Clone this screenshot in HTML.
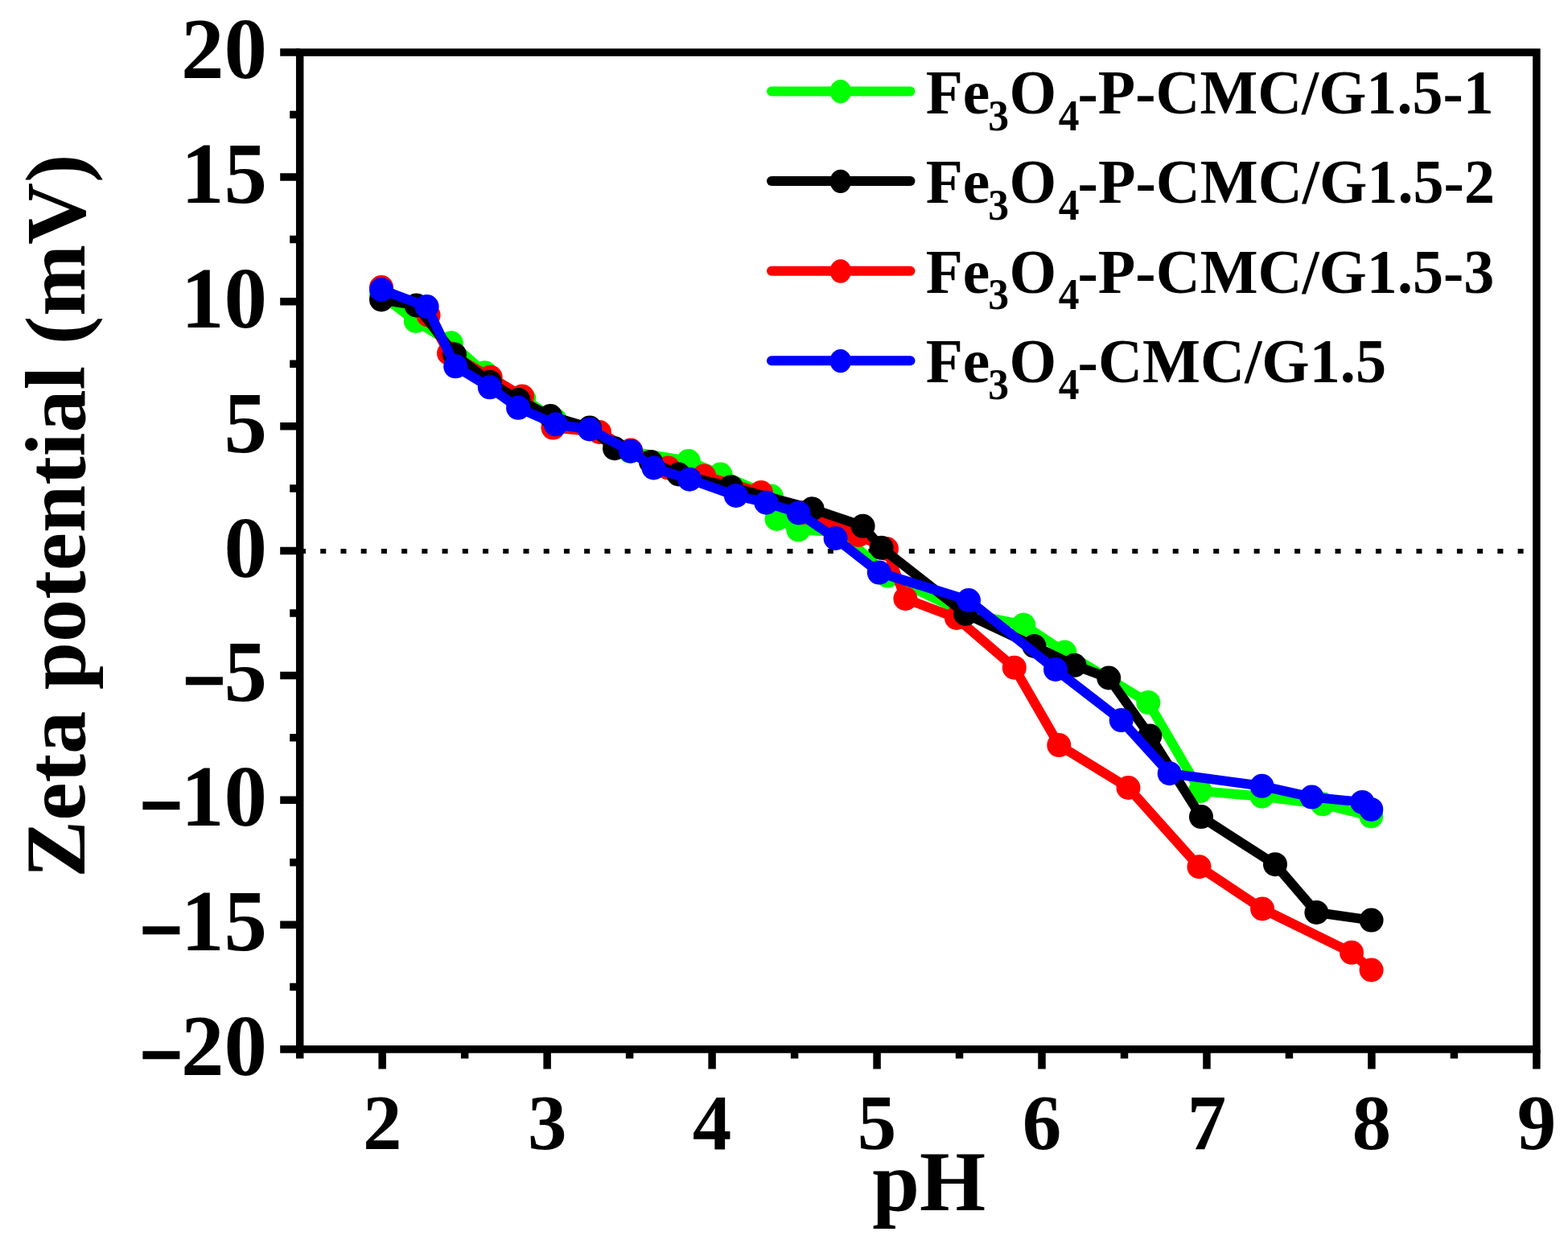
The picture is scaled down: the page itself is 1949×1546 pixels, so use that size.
<!DOCTYPE html>
<html><head><meta charset="utf-8"><title>Zeta potential vs pH</title>
<style>html,body{margin:0;padding:0;background:#fff;}svg{display:block;}text{font-family:'Liberation Serif','Times New Roman',serif;font-weight:bold;fill:#000;}</style></head><body>
<svg width="1949" height="1546" viewBox="0 0 1949 1546">
<rect x="0" y="0" width="1949" height="1546" fill="#fff"/>
<line x1="373.00" y1="685.05" x2="1909.90" y2="685.05" stroke="#000" stroke-width="6" stroke-dasharray="7 18.227"/>
<path d="M474.0 367.0 L516.8 399.0 L560.8 426.3 L602.5 463.2 L651.4 495.5 L690.0 522.0 L733.0 532.0 L783.0 561.0 L855.8 573.0 L895.5 589.6 L958.7 616.5 L965.5 645.0 L992.3 658.5 L1044.0 661.0 L1103.4 715.7 L1200.0 762.0 L1272.2 776.5 L1323.4 810.5 L1427.3 873.1 L1491.7 983.1 L1568.6 989.7 L1644.1 999.5 L1704.3 1014.3" fill="none" stroke="#00ff00" stroke-width="12" stroke-linejoin="round" stroke-linecap="round"/>
<g fill="#00ff00"><circle cx="474.0" cy="367.0" r="15.0"/><circle cx="516.8" cy="399.0" r="15.0"/><circle cx="560.8" cy="426.3" r="15.0"/><circle cx="602.5" cy="463.2" r="15.0"/><circle cx="651.4" cy="495.5" r="15.0"/><circle cx="690.0" cy="522.0" r="15.0"/><circle cx="733.0" cy="532.0" r="15.0"/><circle cx="783.0" cy="561.0" r="15.0"/><circle cx="855.8" cy="573.0" r="15.0"/><circle cx="895.5" cy="589.6" r="15.0"/><circle cx="958.7" cy="616.5" r="15.0"/><circle cx="965.5" cy="645.0" r="15.0"/><circle cx="992.3" cy="658.5" r="15.0"/><circle cx="1044.0" cy="661.0" r="15.0"/><circle cx="1103.4" cy="715.7" r="15.0"/><circle cx="1200.0" cy="762.0" r="15.0"/><circle cx="1272.2" cy="776.5" r="15.0"/><circle cx="1323.4" cy="810.5" r="15.0"/><circle cx="1427.3" cy="873.1" r="15.0"/><circle cx="1491.7" cy="983.1" r="15.0"/><circle cx="1568.6" cy="989.7" r="15.0"/><circle cx="1644.1" cy="999.5" r="15.0"/><circle cx="1704.3" cy="1014.3" r="15.0"/></g>
<path d="M474.0 357.0 L532.5 391.7 L558.0 439.0 L609.7 468.8 L649.0 492.4 L687.5 531.6 L745.0 537.0 L784.0 559.5 L830.5 581.4 L875.2 591.5 L946.0 612.0 L998.0 637.0 L1067.0 665.0 L1102.0 682.0 L1125.4 744.0 L1189.0 768.0 L1260.8 829.7 L1316.3 926.1 L1402.5 979.0 L1490.5 1077.2 L1569.1 1129.5 L1680.0 1183.8 L1704.6 1205.5" fill="none" stroke="#ff0000" stroke-width="12" stroke-linejoin="round" stroke-linecap="round"/>
<g fill="#ff0000"><circle cx="474.0" cy="357.0" r="15.0"/><circle cx="532.5" cy="391.7" r="15.0"/><circle cx="558.0" cy="439.0" r="15.0"/><circle cx="609.7" cy="468.8" r="15.0"/><circle cx="649.0" cy="492.4" r="15.0"/><circle cx="687.5" cy="531.6" r="15.0"/><circle cx="745.0" cy="537.0" r="15.0"/><circle cx="784.0" cy="559.5" r="15.0"/><circle cx="830.5" cy="581.4" r="15.0"/><circle cx="875.2" cy="591.5" r="15.0"/><circle cx="946.0" cy="612.0" r="15.0"/><circle cx="998.0" cy="637.0" r="15.0"/><circle cx="1067.0" cy="665.0" r="15.0"/><circle cx="1102.0" cy="682.0" r="15.0"/><circle cx="1125.4" cy="744.0" r="15.0"/><circle cx="1189.0" cy="768.0" r="15.0"/><circle cx="1260.8" cy="829.7" r="15.0"/><circle cx="1316.3" cy="926.1" r="15.0"/><circle cx="1402.5" cy="979.0" r="15.0"/><circle cx="1490.5" cy="1077.2" r="15.0"/><circle cx="1569.1" cy="1129.5" r="15.0"/><circle cx="1680.0" cy="1183.8" r="15.0"/><circle cx="1704.6" cy="1205.5" r="15.0"/></g>
<path d="M474.0 372.5 L517.5 379.4 L565.0 440.5 L608.8 474.7 L644.5 497.0 L684.2 517.0 L733.0 531.5 L764.0 557.2 L809.0 574.0 L843.5 589.5 L908.7 605.2 L1009.6 632.3 L1072.6 653.8 L1095.6 680.8 L1200.2 762.8 L1285.5 803.0 L1335.5 826.8 L1378.2 842.5 L1429.3 914.5 L1493.0 1015.1 L1585.0 1074.2 L1636.4 1134.0 L1704.6 1143.6" fill="none" stroke="#000000" stroke-width="12" stroke-linejoin="round" stroke-linecap="round"/>
<g fill="#000000"><circle cx="474.0" cy="372.5" r="15.0"/><circle cx="517.5" cy="379.4" r="15.0"/><circle cx="565.0" cy="440.5" r="15.0"/><circle cx="608.8" cy="474.7" r="15.0"/><circle cx="644.5" cy="497.0" r="15.0"/><circle cx="684.2" cy="517.0" r="15.0"/><circle cx="733.0" cy="531.5" r="15.0"/><circle cx="764.0" cy="557.2" r="15.0"/><circle cx="809.0" cy="574.0" r="15.0"/><circle cx="843.5" cy="589.5" r="15.0"/><circle cx="908.7" cy="605.2" r="15.0"/><circle cx="1009.6" cy="632.3" r="15.0"/><circle cx="1072.6" cy="653.8" r="15.0"/><circle cx="1095.6" cy="680.8" r="15.0"/><circle cx="1200.2" cy="762.8" r="15.0"/><circle cx="1285.5" cy="803.0" r="15.0"/><circle cx="1335.5" cy="826.8" r="15.0"/><circle cx="1378.2" cy="842.5" r="15.0"/><circle cx="1429.3" cy="914.5" r="15.0"/><circle cx="1493.0" cy="1015.1" r="15.0"/><circle cx="1585.0" cy="1074.2" r="15.0"/><circle cx="1636.4" cy="1134.0" r="15.0"/><circle cx="1704.6" cy="1143.6" r="15.0"/></g>
<path d="M474.0 360.0 L530.6 381.0 L566.2 455.3 L608.8 481.3 L644.1 506.8 L690.8 527.3 L732.8 533.5 L784.0 560.7 L812.5 581.5 L857.1 595.7 L914.9 616.0 L952.4 624.7 L992.5 637.4 L1038.6 669.0 L1092.8 711.6 L1204.0 746.0 L1312.0 832.0 L1393.7 895.1 L1453.7 961.2 L1568.6 976.8 L1630.5 990.6 L1693.3 996.9 L1704.3 1005.9" fill="none" stroke="#0000ff" stroke-width="12" stroke-linejoin="round" stroke-linecap="round"/>
<g fill="#0000ff"><circle cx="474.0" cy="360.0" r="15.0"/><circle cx="530.6" cy="381.0" r="15.0"/><circle cx="566.2" cy="455.3" r="15.0"/><circle cx="608.8" cy="481.3" r="15.0"/><circle cx="644.1" cy="506.8" r="15.0"/><circle cx="690.8" cy="527.3" r="15.0"/><circle cx="732.8" cy="533.5" r="15.0"/><circle cx="784.0" cy="560.7" r="15.0"/><circle cx="812.5" cy="581.5" r="15.0"/><circle cx="857.1" cy="595.7" r="15.0"/><circle cx="914.9" cy="616.0" r="15.0"/><circle cx="952.4" cy="624.7" r="15.0"/><circle cx="992.5" cy="637.4" r="15.0"/><circle cx="1038.6" cy="669.0" r="15.0"/><circle cx="1092.8" cy="711.6" r="15.0"/><circle cx="1204.0" cy="746.0" r="15.0"/><circle cx="1312.0" cy="832.0" r="15.0"/><circle cx="1393.7" cy="895.1" r="15.0"/><circle cx="1453.7" cy="961.2" r="15.0"/><circle cx="1568.6" cy="976.8" r="15.0"/><circle cx="1630.5" cy="990.6" r="15.0"/><circle cx="1693.3" cy="996.9" r="15.0"/><circle cx="1704.3" cy="1005.9" r="15.0"/></g>
<rect x="372.70" y="65.10" width="1537.20" height="1238.90" fill="none" stroke="#000" stroke-width="9.5"/>
<path d="M348.20 65.10H372.70M360.20 142.53H372.70M348.20 219.96H372.70M360.20 297.39H372.70M348.20 374.83H372.70M360.20 452.26H372.70M348.20 529.69H372.70M360.20 607.12H372.70M348.20 684.55H372.70M360.20 761.98H372.70M348.20 839.41H372.70M360.20 916.84H372.70M348.20 994.28H372.70M360.20 1071.71H372.70M348.20 1149.14H372.70M360.20 1226.57H372.70M348.20 1304.00H372.70M372.70 1304.00V1315.50M475.18 1304.00V1328.50M577.66 1304.00V1315.50M680.14 1304.00V1328.50M782.62 1304.00V1315.50M885.10 1304.00V1328.50M987.58 1304.00V1315.50M1090.06 1304.00V1328.50M1192.54 1304.00V1315.50M1295.02 1304.00V1328.50M1397.50 1304.00V1315.50M1499.98 1304.00V1328.50M1602.46 1304.00V1315.50M1704.94 1304.00V1328.50M1807.42 1304.00V1315.50M1909.90 1304.00V1328.50" stroke="#000" stroke-width="9.5" fill="none"/>
<text x="332" y="97.10" font-size="107" text-anchor="end">20</text>
<text x="332" y="251.96" font-size="107" text-anchor="end">15</text>
<text x="332" y="406.83" font-size="107" text-anchor="end">10</text>
<text x="332" y="561.69" font-size="107" text-anchor="end">5</text>
<text x="332" y="716.55" font-size="107" text-anchor="end">0</text>
<text x="332" y="871.41" font-size="107" text-anchor="end">5</text>
<text transform="translate(225.78 894.35) scale(0.9897 1.4327)" font-size="100">&#8722;</text>
<text x="332" y="1026.28" font-size="107" text-anchor="end">10</text>
<text transform="translate(172.28 1049.21) scale(0.9897 1.4327)" font-size="100">&#8722;</text>
<text x="332" y="1181.14" font-size="107" text-anchor="end">15</text>
<text transform="translate(172.28 1204.07) scale(0.9897 1.4327)" font-size="100">&#8722;</text>
<text x="332" y="1336.00" font-size="107" text-anchor="end">20</text>
<text transform="translate(172.28 1358.94) scale(0.9897 1.4327)" font-size="100">&#8722;</text>
<text x="475.18" y="1427.5" font-size="97" text-anchor="middle">2</text>
<text x="680.14" y="1427.5" font-size="97" text-anchor="middle">3</text>
<text x="885.10" y="1427.5" font-size="97" text-anchor="middle">4</text>
<text x="1090.06" y="1427.5" font-size="97" text-anchor="middle">5</text>
<text x="1295.02" y="1427.5" font-size="97" text-anchor="middle">6</text>
<text x="1499.98" y="1427.5" font-size="97" text-anchor="middle">7</text>
<text x="1704.94" y="1427.5" font-size="97" text-anchor="middle">8</text>
<text x="1909.90" y="1427.5" font-size="97" text-anchor="middle">9</text>
<text transform="translate(105.4 1090.80) rotate(-90)" font-size="106.5">Zeta potential (mV)</text>
<text x="1084.36" y="1504.4" font-size="105.6">pH</text>
<line x1="959" y1="113.40" x2="1131.5" y2="113.40" stroke="#00ff00" stroke-width="12" stroke-linecap="round"/>
<ellipse cx="1044.8" cy="113.70" rx="13.2" ry="14.7" fill="#00ff00"/>
<text y="141.00" font-size="79"><tspan x="1150.71" textLength="79.57" lengthAdjust="spacingAndGlyphs">Fe</tspan><tspan x="1228.16" y="161.50" font-size="54" textLength="25.79" lengthAdjust="spacingAndGlyphs">3</tspan><tspan x="1254.52" y="141.00" textLength="58.68" lengthAdjust="spacingAndGlyphs">O</tspan><tspan x="1315.69" y="161.50" font-size="54" textLength="25.79" lengthAdjust="spacingAndGlyphs">4</tspan><tspan x="1339.52" y="141.00" textLength="517.21" lengthAdjust="spacingAndGlyphs">-P-CMC/G1.5-1</tspan></text>
<line x1="959" y1="225.05" x2="1131.5" y2="225.05" stroke="#000000" stroke-width="12" stroke-linecap="round"/>
<ellipse cx="1044.8" cy="225.35" rx="13.2" ry="14.7" fill="#000000"/>
<text y="252.40" font-size="79"><tspan x="1150.71" textLength="79.57" lengthAdjust="spacingAndGlyphs">Fe</tspan><tspan x="1228.16" y="272.90" font-size="54" textLength="25.79" lengthAdjust="spacingAndGlyphs">3</tspan><tspan x="1254.52" y="252.40" textLength="58.68" lengthAdjust="spacingAndGlyphs">O</tspan><tspan x="1315.69" y="272.90" font-size="54" textLength="25.79" lengthAdjust="spacingAndGlyphs">4</tspan><tspan x="1339.51" y="252.40" textLength="518.57" lengthAdjust="spacingAndGlyphs">-P-CMC/G1.5-2</tspan></text>
<line x1="959" y1="336.70" x2="1131.5" y2="336.70" stroke="#ff0000" stroke-width="12" stroke-linecap="round"/>
<ellipse cx="1044.8" cy="337.00" rx="13.2" ry="14.7" fill="#ff0000"/>
<text y="363.80" font-size="79"><tspan x="1150.71" textLength="79.57" lengthAdjust="spacingAndGlyphs">Fe</tspan><tspan x="1228.16" y="384.30" font-size="54" textLength="25.79" lengthAdjust="spacingAndGlyphs">3</tspan><tspan x="1254.52" y="363.80" textLength="58.68" lengthAdjust="spacingAndGlyphs">O</tspan><tspan x="1315.69" y="384.30" font-size="54" textLength="25.79" lengthAdjust="spacingAndGlyphs">4</tspan><tspan x="1339.51" y="363.80" textLength="517.89" lengthAdjust="spacingAndGlyphs">-P-CMC/G1.5-3</tspan></text>
<line x1="959" y1="448.35" x2="1131.5" y2="448.35" stroke="#0000ff" stroke-width="12" stroke-linecap="round"/>
<ellipse cx="1044.8" cy="448.65" rx="13.2" ry="14.7" fill="#0000ff"/>
<text y="475.20" font-size="79"><tspan x="1150.71" textLength="79.57" lengthAdjust="spacingAndGlyphs">Fe</tspan><tspan x="1228.16" y="495.70" font-size="54" textLength="25.79" lengthAdjust="spacingAndGlyphs">3</tspan><tspan x="1254.52" y="475.20" textLength="58.68" lengthAdjust="spacingAndGlyphs">O</tspan><tspan x="1315.69" y="495.70" font-size="54" textLength="25.79" lengthAdjust="spacingAndGlyphs">4</tspan><tspan x="1339.51" y="475.20" textLength="383.61" lengthAdjust="spacingAndGlyphs">-CMC/G1.5</tspan></text>
</svg></body></html>
